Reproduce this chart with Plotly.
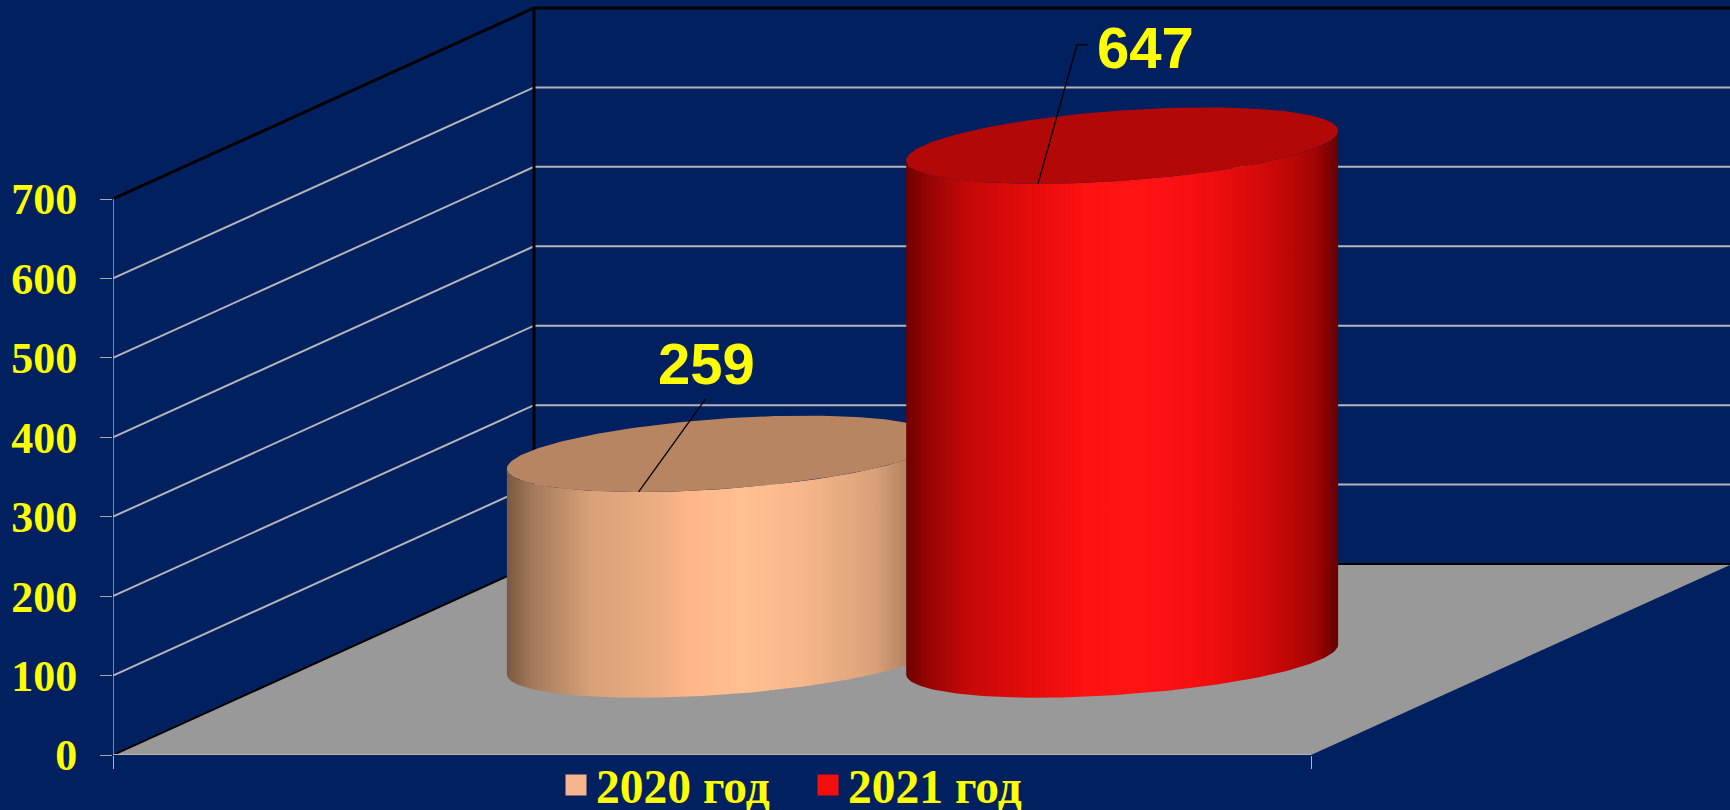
import numpy as np
import plotly.graph_objects as go

# ---- data ----
series_names = ["2020 год", "2021 год"]
series_values = [259, 647]
y_ticks = [0, 100, 200, 300, 400, 500, 600, 700]
swatch_colors = ["#F5B58E", "#F40F0F"]
top_colors = ["#B88563", "#B30808"]
body_scales = [
    [[0, "#7A5842"], [0.06, "#A47A5A"], [0.2, "#DAA27A"], [0.36, "#EDAE83"], [0.42, "#FFB689"],
     [0.55, "#FFC090"], [0.68, "#F8B78B"], [0.85, "#DAA27A"], [0.95, "#A47A5A"], [1, "#7A5842"]],
    [[0, "#6E0000"], [0.05, "#960404"], [0.14, "#C40808"], [0.3, "#E80C0C"], [0.42, "#FF1212"],
     [0.55, "#FF1414"], [0.7, "#F20E0E"], [0.85, "#CC0909"], [0.95, "#A00404"], [1, "#640000"]],
]

# ---- oblique 3-D projection onto the 2-D axes ----
PX_PER_UNIT_X = 1198.0
PX_PER_VALUE = 556.0 / 700.0
DEPTH_X = 421.0 / PX_PER_UNIT_X          # x shift for full chart depth
DEPTH_Y = 191.0 / PX_PER_VALUE           # value shift for full chart depth
RADIUS_X = 0.166                         # half bar width
RADIUS_D = 0.2                           # half bar depth
DEPTH_MID = 0.5
VALUE_MAX = y_ticks[-1]


def proj(x, v, d):
    return x + d * DEPTH_X, v + d * DEPTH_Y


def rim(cx, v, t):
    return proj(cx + RADIUS_X * np.cos(t), v, DEPTH_MID + RADIUS_D * np.sin(t))


def line(xs, ys, color, width, clip=True):
    return go.Scatter(x=list(xs), y=list(ys), mode="lines", line=dict(color=color, width=width),
                      showlegend=False, hoverinfo="skip", cliponaxis=clip)


fig = go.Figure()

# floor
fx, fy = zip(*[proj(0, 0, 0), proj(1, 0, 0), proj(1, 0, 1), proj(0, 0, 1), proj(0, 0, 0)])
fig.add_trace(go.Scatter(x=fx, y=fy, mode="lines", fill="toself", fillcolor="#999999",
                         line=dict(width=0), showlegend=False, hoverinfo="skip"))

# gridlines on the side wall and the back wall
for v in y_ticks[1:-1]:
    xs, ys = zip(*[proj(0, v, 0), proj(0, v, 1), proj(1, v, 1)])
    fig.add_trace(line(xs, ys, "#B4B4B8", 2))

# black frame edges
xs, ys = zip(*[proj(0, VALUE_MAX, 0), proj(0, VALUE_MAX, 1), proj(1, VALUE_MAX, 1)])
fig.add_trace(line(xs, ys, "#000000", 3))
xs, ys = zip(*[proj(0, 0, 1), proj(0, VALUE_MAX, 1)])
fig.add_trace(line(xs, ys, "#000000", 3))
xs, ys = zip(*[proj(0, 0, 0), proj(0, 0, 1), proj(1, 0, 1)])
fig.add_trace(line(xs, ys, "#000000", 2))

# cylinders
phi = np.arctan2(RADIUS_D * DEPTH_X, RADIUS_X)
front = np.linspace(phi + np.pi, phi + 2 * np.pi, 120)
whole = np.linspace(0, 2 * np.pi, 241)
centers = [(i + 1) / (len(series_values) + 1) for i in range(len(series_values))]

for cx, val, scale, top in zip(centers, series_values, body_scales, top_colors):
    bx, by = rim(cx, 0, front)
    tx, ty = rim(cx, val, front[::-1])
    fig.add_trace(go.Scatter(
        x=np.r_[bx, tx, bx[:1]], y=np.r_[by, ty, by[:1]], mode="lines", fill="toself",
        line=dict(width=0), fillgradient=dict(type="horizontal", colorscale=scale),
        showlegend=False, hoverinfo="skip"))
    ex, ey = rim(cx, val, whole)
    fig.add_trace(go.Scatter(x=ex, y=ey, mode="lines", fill="toself", fillcolor=top,
                             line=dict(width=0), showlegend=False, hoverinfo="skip"))

# axis lines (stop at the last tick / the floor corner)
fig.add_trace(line([0, 0], [0, VALUE_MAX], "#A8A8A8", 1.5, clip=False))
fig.add_trace(line([0, 1], [0, 0], "#B4B4B8", 2, clip=False))

# data labels with leader lines (offsets in px from the front of the top rim)
leaders = [[(67, -93)], [(39, -139), (50, -139)]]
label_offset = [(68, -128), (108, -136)]
for cx, val, path, off in zip(centers, series_values, leaders, label_offset):
    sx, sy = rim(cx, val, -np.pi / 2)
    xs = [sx] + [sx + p[0] / PX_PER_UNIT_X for p in path]
    ys = [sy] + [sy - p[1] / PX_PER_VALUE for p in path]
    fig.add_trace(line(xs, ys, "#000000", 1.3))
    fig.add_annotation(x=sx + off[0] / PX_PER_UNIT_X, y=sy - off[1] / PX_PER_VALUE,
                       text=str(val), showarrow=False, xanchor="center", yanchor="middle",
                       font=dict(family="Liberation Sans", size=58, color="#FFFF00", weight="bold"))

# legend entries
for name, col in zip(series_names, swatch_colors):
    fig.add_trace(go.Scatter(x=[None], y=[None], mode="markers", name=name,
                             marker=dict(symbol="square", size=16, color=col,
                                         line=dict(color=col, width=5))))

W, H, L, B = 1730, 810, 113, 55
fig.update_layout(
    width=W, height=H,
    margin=dict(l=L, r=0, t=0, b=B, autoexpand=False),
    paper_bgcolor="#002060", plot_bgcolor="#002060",
    hovermode=False,
    xaxis=dict(range=[0, (W - L) / PX_PER_UNIT_X], showgrid=False, zeroline=False, showline=False,
               tickmode="array", tickvals=[0, 1], ticktext=["", ""], ticks="outside", ticklen=13,
               tickwidth=1, tickcolor="#B4B4B8", fixedrange=True),
    yaxis=dict(range=[0, (H - B) / PX_PER_VALUE], showgrid=False, zeroline=False, showline=False,
               tickmode="array", tickvals=y_ticks, ticktext=[str(v) for v in y_ticks],
               ticks="outside", ticklen=12, tickwidth=1, tickcolor="#A8A8A8",
               ticklabelstandoff=14,
               tickfont=dict(family="Liberation Serif", size=44, color="#FFFF00", weight="bold"),
               fixedrange=True),
    legend=dict(orientation="h", x=(556 - L) / (W - L), xanchor="left", y=-30 / (H - B), yanchor="middle",
                bgcolor="rgba(0,0,0,0)", entrywidth=207, entrywidthmode="pixels",
                font=dict(family="Liberation Serif", size=47.5, color="#FFFF00", weight="bold")),
)

fig.write_html("out.html", config=dict(displayModeBar=False),
               post_script="document.body.style.margin='0';document.body.style.overflow='hidden';"
                           "document.body.style.background='#002060';")
